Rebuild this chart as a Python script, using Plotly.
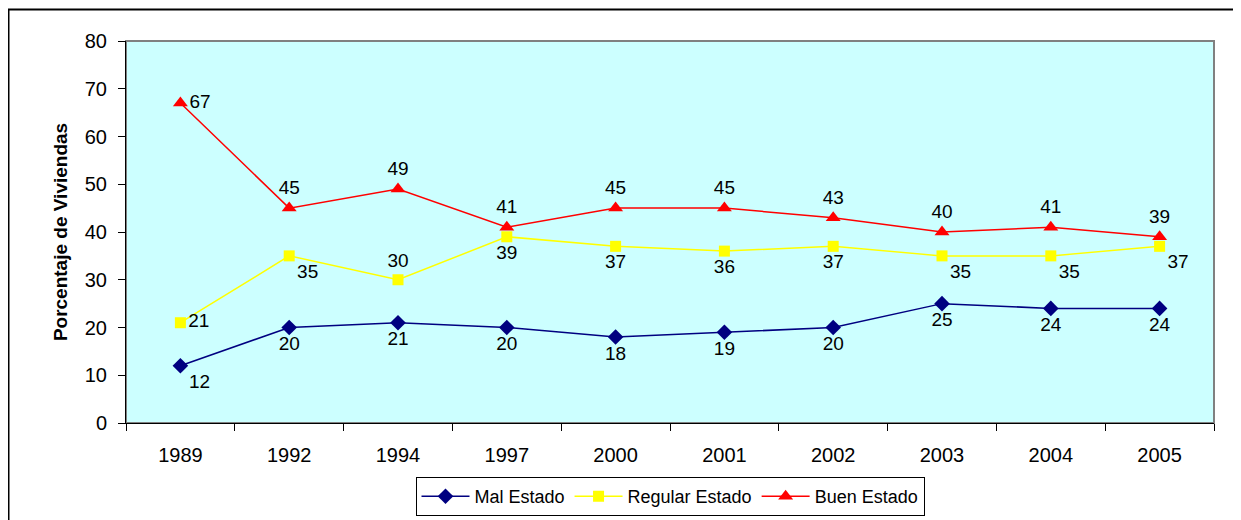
import plotly.graph_objects as go

years = ["1989", "1992", "1994", "1997", "2000", "2001", "2002", "2003", "2004", "2005"]
mal = [12, 20, 21, 20, 18, 19, 20, 25, 24, 24]
regular = [21, 35, 30, 39, 37, 36, 37, 35, 35, 37]
buen = [67, 45, 49, 41, 45, 45, 43, 40, 41, 39]
y_ticks = [0, 10, 20, 30, 40, 50, 60, 70, 80]

mal_pos = ["bottom right"] + ["bottom center"] * 9
reg_pos = ["middle right", "bottom right", "top center", "bottom center", "bottom center",
           "bottom center", "bottom center", "bottom right", "bottom right", "bottom right"]
buen_pos = ["middle right"] + ["top center"] * 9

# page offset (body margin of the html page)
OFF = 8
W, H = 1241 - OFF, 520 - OFF
# plot area in page pixels
L, R, T, B = 126, 1214, 41, 423

def px_x(p):
    return (p - L) / (R - L)

def px_y(p):
    return (B - p) / (B - T)

label_font = dict(family="Arial", size=19, color="black")

fig = go.Figure()
fig.add_trace(go.Scatter(
    x=years, y=mal, name="Mal Estado", mode="lines+markers+text",
    line=dict(color="#000080", width=1.5), marker=dict(symbol="diamond", size=12, color="#000080"),
    text=[str(v) for v in mal], textposition=mal_pos, textfont=label_font))
fig.add_trace(go.Scatter(
    x=years, y=regular, name="Regular Estado", mode="lines+markers+text",
    line=dict(color="#FFFF00", width=1.5), marker=dict(symbol="square", size=11, color="#FFFF00"),
    text=[str(v) for v in regular], textposition=reg_pos, textfont=label_font))
fig.add_trace(go.Scatter(
    x=years, y=buen, name="Buen Estado", mode="lines+markers+text",
    line=dict(color="#FF0000", width=1.5), marker=dict(symbol="triangle-up", size=13, color="#FF0000"),
    text=[str(v) for v in buen], textposition=buen_pos, textfont=label_font))

shapes = [
    dict(type="rect", xref="paper", yref="paper", x0=0, y0=0, x1=1, y1=1,
         line=dict(color="#808080", width=2), layer="below"),
    dict(type="line", xref="paper", yref="paper", x0=px_x(8), y0=px_y(9.5), x1=px_x(1250), y1=px_y(9.5),
         line=dict(color="black", width=2)),
    dict(type="line", xref="paper", yref="paper", x0=px_x(8.5), y0=px_y(9), x1=px_x(8.5), y1=px_y(530),
         line=dict(color="black", width=2)),
]

fig.update_layout(
    width=W, height=H,
    margin=dict(l=L - OFF, r=W - (R - OFF), t=T - OFF, b=H - (B - OFF), autoexpand=False),
    paper_bgcolor="white", plot_bgcolor="#CCFFFF",
    font=dict(family="Arial", size=20, color="black"),
    showlegend=True,
    legend=dict(orientation="h", x=0.5, xanchor="center", y=px_y(477), yanchor="top",
                bordercolor="black", borderwidth=1, bgcolor="white",
                font=dict(family="Arial", size=18, color="black"),
                itemwidth=48, tracegroupgap=0),
    shapes=shapes,
    xaxis=dict(type="category", range=[-0.5, len(years) - 0.5], autorange=False,
               showgrid=False, showline=True, linecolor="black", linewidth=1,
               ticks="outside", ticklen=7, tickcolor="black", tickson="boundaries",
               tickfont=dict(family="Arial", size=20), fixedrange=True, ticklabelstandoff=14),
    yaxis=dict(range=[0, 80], autorange=False, tickvals=y_ticks, showgrid=False, zeroline=False,
               showline=True, linecolor="black", linewidth=1,
               ticks="outside", ticklen=7, tickcolor="black",
               tickfont=dict(family="Arial", size=20), ticklabelstandoff=7,
               title=dict(text="<b>Porcentaje de Viviendas</b>", font=dict(family="Arial", size=19), standoff=12)),
)

fig.write_html("out.html")
